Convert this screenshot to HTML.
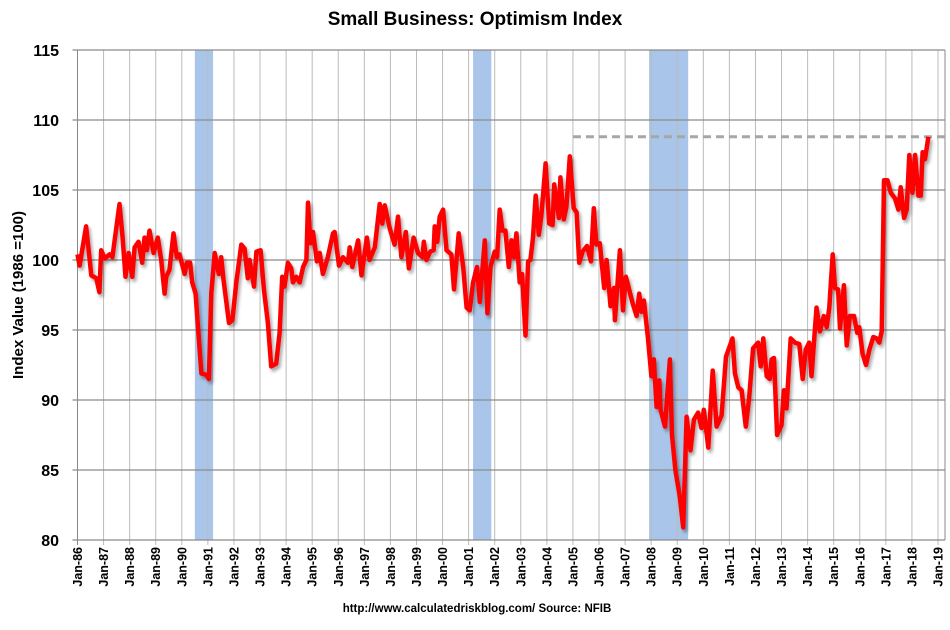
<!DOCTYPE html>
<html><head><meta charset="utf-8"><style>
body{margin:0;background:#fff;width:950px;height:630px;overflow:hidden;font-family:"Liberation Sans",Arial,sans-serif}
svg{display:block}
</style></head><body>
<svg id="chart" width="950" height="630" xmlns="http://www.w3.org/2000/svg">
<defs><filter id="sh" x="-5%" y="-5%" width="110%" height="110%"><feGaussianBlur in="SourceAlpha" stdDeviation="1.5"/><feOffset dx="2" dy="3"/><feComponentTransfer><feFuncA type="linear" slope="0.35"/></feComponentTransfer><feMerge><feMergeNode/><feMergeNode in="SourceGraphic"/></feMerge></filter></defs>
<text x="475" y="25" text-anchor="middle" font-size="19" font-weight="bold" fill="#000">Small Business: Optimism Index</text>
<text transform="translate(23,295) rotate(-90)" text-anchor="middle" font-size="15" font-weight="bold">Index Value (1986 =100)</text>
<text x="477" y="612" text-anchor="middle" font-size="11.5" font-weight="bold">http://www.calculatedriskblog.com/  Source: NFIB</text>
<g id="bands"></g><g id="grid"></g><g id="axes"></g><g id="series"></g>
</svg>
<script>
const yTicks=[80,85,90,95,100,105,110,115];
const xTickYears=[1986,1987,1988,1989,1990,1991,1992,1993,1994,1995,1996,1997,1998,1999,2000,2001,2002,2003,2004,2005,2006,2007,2008,2009,2010,2011,2012,2013,2014,2015,2016,2017,2018,2019];
const recessionStart=[1990.5,2001.17,2007.92];
const recessionEnd=[1991.2,2001.87,2009.42];
const priorHigh=108.8;
const priorHighStart=2005.0;
const dates=[1986.0,1986.08,1986.33,1986.53,1986.72,1986.84,1986.91,1987.04,1987.23,1987.34,1987.61,1987.73,1987.84,1987.96,1988.10,1988.19,1988.34,1988.48,1988.57,1988.66,1988.76,1988.92,1989.08,1989.21,1989.34,1989.40,1989.53,1989.68,1989.81,1989.91,1990.11,1990.19,1990.32,1990.40,1990.53,1990.62,1990.75,1990.94,1991.04,1991.13,1991.26,1991.42,1991.51,1991.60,1991.81,1991.94,1992.09,1992.28,1992.41,1992.53,1992.60,1992.77,1992.86,1993.02,1993.15,1993.30,1993.43,1993.62,1993.75,1993.85,1993.94,1994.07,1994.20,1994.26,1994.39,1994.52,1994.65,1994.78,1994.84,1994.93,1995.03,1995.18,1995.29,1995.41,1995.60,1995.80,1995.86,1996.03,1996.18,1996.37,1996.44,1996.54,1996.76,1996.89,1997.10,1997.20,1997.40,1997.59,1997.69,1997.78,1997.97,1998.16,1998.29,1998.42,1998.59,1998.71,1998.89,1999.06,1999.23,1999.28,1999.38,1999.53,1999.66,1999.70,1999.80,1999.89,2000.02,2000.15,2000.34,2000.44,2000.62,2000.79,2000.92,2001.04,2001.17,2001.32,2001.43,2001.62,2001.72,2001.84,2002.00,2002.09,2002.19,2002.30,2002.41,2002.54,2002.64,2002.74,2002.83,2002.96,2003.05,2003.18,2003.28,2003.37,2003.47,2003.57,2003.69,2003.79,2003.95,2004.09,2004.22,2004.28,2004.46,2004.52,2004.65,2004.75,2004.88,2005.03,2005.14,2005.24,2005.37,2005.54,2005.69,2005.80,2005.90,2006.03,2006.20,2006.29,2006.44,2006.57,2006.61,2006.80,2006.92,2007.03,2007.29,2007.44,2007.54,2007.63,2007.72,2007.88,2008.01,2008.10,2008.21,2008.31,2008.36,2008.53,2008.72,2008.80,2008.93,2009.10,2009.23,2009.36,2009.51,2009.64,2009.80,2009.93,2010.02,2010.19,2010.36,2010.51,2010.70,2010.87,2011.12,2011.21,2011.34,2011.47,2011.63,2011.76,2011.91,2012.10,2012.20,2012.30,2012.43,2012.55,2012.62,2012.71,2012.83,2013.00,2013.09,2013.19,2013.35,2013.51,2013.68,2013.81,2013.93,2014.06,2014.15,2014.34,2014.47,2014.62,2014.73,2014.83,2014.96,2015.05,2015.17,2015.24,2015.39,2015.50,2015.62,2015.78,2015.90,2015.98,2016.11,2016.24,2016.37,2016.52,2016.65,2016.75,2016.84,2016.93,2017.06,2017.19,2017.35,2017.48,2017.57,2017.70,2017.80,2017.90,2018.02,2018.12,2018.25,2018.34,2018.41,2018.50,2018.63];
const values=[100.4,99.6,102.4,98.9,98.7,97.7,100.7,100.1,100.4,100.2,104,101.6,98.8,100.5,98.8,100.9,101.3,99.8,101.6,100.7,102.1,100.5,101.6,100,97.6,98.8,99.3,101.9,100.2,100.4,99,99.8,99.8,98.4,97.6,95.2,91.9,91.8,91.5,97.6,100.5,99,100.2,98.6,95.5,95.7,98.4,101.1,100.8,98.7,100,98.1,100.6,100.7,97.9,95.5,92.4,92.6,94.8,98.8,98.1,99.8,99.4,98.4,98.8,98.4,99.5,100,104.1,101.2,102,99.9,100.5,99,100.2,101.9,102,99.6,100.2,99.8,100.9,99.5,101.4,98.9,101.6,100,100.9,104,102.6,103.9,102.3,101.1,103.1,100.2,102,99.4,101.6,100.5,100.2,101.3,100,100.6,100.7,102.4,101.3,103.1,103.6,100.7,100.4,97.9,101.9,99.5,96.6,96.4,98.4,99.5,97,101.4,96.2,99.5,100.6,100.2,103.6,102.1,102.1,99.5,101.4,100.2,101.9,98.4,99,94.6,99.9,100,101.6,104.6,101.8,103.2,106.9,102.6,102.5,105.4,103,105.9,102.9,103.8,107.4,103.7,103.4,99.8,100.6,101,99.9,103.7,101.1,101.2,98,100,96.7,98,95.7,100.7,96.4,98.8,96.9,96,97.6,96.3,97.1,94.4,91.7,92.9,89.5,91.4,89.3,88.1,92.9,87.5,85,83.1,80.9,88.8,86.4,88.6,89.1,88,89.3,86.6,92.1,88.1,88.9,93.1,94.4,91.9,90.9,90.7,88.1,90.2,93.7,94.1,92.4,94.4,91.7,91.5,92.9,93,87.5,88.2,90.7,89.4,94.4,94.1,94,91.5,93.6,94.1,91.7,96.6,94.9,96,95.2,96.6,100.4,98,97.9,95.1,98.2,93.9,96,96,94.8,95.2,93.3,92.5,93.6,94.5,94.4,94.1,94.9,105.7,105.7,104.8,104.4,103.6,105.2,103,103.6,107.5,104.8,107.5,104.6,104.6,107.7,107.2,108.8];

const X0=77.5,X1=945,Y0=540,Y1=50;
const xs=d=>X0+(d-1986)*(938-77.5)/33;
const ys=v=>Y0-(v-80)*(Y0-Y1)/35;
const NS='http://www.w3.org/2000/svg';
function mk(tag,attrs,parent){const e=document.createElementNS(NS,tag);for(const k in attrs)e.setAttribute(k,attrs[k]);parent.appendChild(e);return e;}
const bands=document.getElementById('bands'),grid=document.getElementById('grid'),axes=document.getElementById('axes'),series=document.getElementById('series');
for(let i=0;i<recessionStart.length;i++){
  const r=mk('rect',{x:xs(recessionStart[i]),y:Y1,width:xs(recessionEnd[i])-xs(recessionStart[i]),height:Y0-Y1,fill:'#a9c5ea'},bands);
  
  
}
xTickYears.forEach((yr,i)=>{
  const x=xs(yr);
  const l=mk('line',{x1:x,x2:x,y1:Y1,y2:Y0+5,stroke:i==0?'#888':'#bbb','stroke-width':1},grid);
  
  
  const t=mk('text',{transform:`translate(${x+4.5},547) rotate(-90)`,'text-anchor':'end','font-size':12.5,'font-weight':'bold'},axes);
  t.textContent='Jan-'+String(yr).slice(2);
  
  
});
yTicks.forEach(v=>{
  const y=ys(v);
  const l=mk('line',{x1:X0-5,x2:X1,y1:y,y2:y,stroke:'#8a8a8a','stroke-width':1.2},grid);
  
  
  const t=mk('text',{x:59,y:y+6,'text-anchor':'end','font-size':16,'font-weight':'bold'},axes);
  t.textContent=v;
  
  
});
const rb=mk('line',{x1:X1,x2:X1,y1:Y1,y2:Y0,stroke:'#888','stroke-width':1},grid);


const dl=mk('line',{x1:xs(priorHighStart),x2:X1,y1:ys(priorHigh),y2:ys(priorHigh),stroke:'#a6a6a6','stroke-width':3,'stroke-dasharray':'8,5'},series);


const pts=dates.map((d,i)=>xs(d).toFixed(1)+','+ys(values[i]).toFixed(1)).join(' ');
const pl=mk('polyline',{points:pts,fill:'none',stroke:'#ff0000','stroke-width':4.5,'stroke-linejoin':'round',filter:'url(#sh)'},series);


</script>
</body></html>
